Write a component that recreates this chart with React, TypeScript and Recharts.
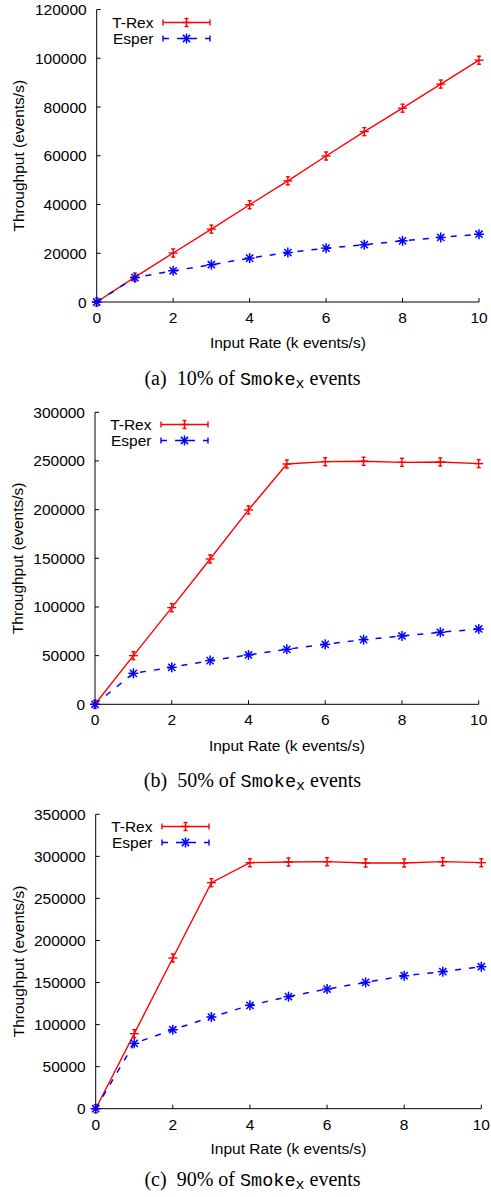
import React from 'react';
import { LineChart, Line, XAxis, YAxis, Legend } from 'recharts';

// input rate, k events/s
const inputRate = [0, 1, 2, 3, 4, 5, 6, 7, 8, 9, 10];

// (a) 10% of Smoke_x events
const trexA = [0, 10200, 20100, 29900, 39900, 49700, 59900, 69900, 79500, 89400, 99200];
const esperA = [0, 10000, 12800, 15300, 18000, 20300, 22100, 23500, 25100, 26500, 27800];

// (b) 50% of Smoke_x events
const trexB = [0, 50000, 99300, 149300, 199700, 246900, 249300, 249700, 248600, 249000, 247300];
const esperB = [0, 31800, 38000, 44900, 50700, 56500, 61600, 66400, 70200, 74000, 77400];

// (c) 90% of Smoke_x events
const trexC = [0, 89200, 179200, 268700, 292500, 293300, 293700, 292100, 292100, 293700, 292500];
const esperC = [0, 77700, 93900, 109000, 122900, 133200, 142300, 150200, 158100, 162900, 168800];

const xTicks = [0, 2, 4, 6, 8, 10];
const yTicksA = [0, 20000, 40000, 60000, 80000, 100000, 120000];
const yTicksB = [0, 50000, 100000, 150000, 200000, 250000, 300000];
const yTicksC = [0, 50000, 100000, 150000, 200000, 250000, 300000, 350000];

const RED = '#ff0000';
const BLUE = '#0000ff';
const SANS = '"Liberation Sans", Arial, Helvetica, sans-serif';
const FS = 15.5;
const DASH = '6 8';

function PlusMark({ cx, cy }: { cx: number; cy: number }) {
  return (
    <g stroke={RED} strokeWidth={1.4} fill="none">
      <line x1={cx - 4.5} y1={cy} x2={cx + 4.5} y2={cy} />
      <line x1={cx} y1={cy - 4.5} x2={cx} y2={cy + 4.5} />
      <line x1={cx - 2} y1={cy - 4} x2={cx + 2} y2={cy - 4} />
      <line x1={cx - 2} y1={cy + 4} x2={cx + 2} y2={cy + 4} />
    </g>
  );
}

function StarMark({ cx, cy }: { cx: number; cy: number }) {
  const r = 5;
  const d = 3.6;
  return (
    <g stroke={BLUE} strokeWidth={1.5} fill="none">
      <line x1={cx - r} y1={cy} x2={cx + r} y2={cy} />
      <line x1={cx} y1={cy - r} x2={cx} y2={cy + r} />
      <line x1={cx - d} y1={cy - d} x2={cx + d} y2={cy + d} />
      <line x1={cx - d} y1={cy + d} x2={cx + d} y2={cy - d} />
    </g>
  );
}

const trexDot = (props: any) =>
  props.cx == null ? <g key={props.key} /> : <PlusMark key={props.key} cx={props.cx} cy={props.cy} />;
const esperDot = (props: any) =>
  props.cx == null ? <g key={props.key} /> : <StarMark key={props.key} cx={props.cx} cy={props.cy} />;

function KeyBox() {
  const rows = [
    { name: 'T-Rex', color: RED, dash: undefined, y: 12.5 },
    { name: 'Esper', color: BLUE, dash: DASH, y: 28.5 },
  ];
  return (
    <svg width={130} height={40} style={{ display: 'block' }}>
      {rows.map((r) => (
        <g key={r.name}>
          <text x={56.5} y={r.y} dy="0.36em" textAnchor="end" fontFamily={SANS} fontSize={FS} fill="#000">
            {r.name}
          </text>
          <line x1={66} y1={r.y} x2={113} y2={r.y} stroke={r.color} strokeWidth={1.4} strokeDasharray={r.dash} />
          <line x1={66} y1={r.y - 3} x2={66} y2={r.y + 3} stroke={r.color} strokeWidth={1.4} />
          <line x1={113} y1={r.y - 3} x2={113} y2={r.y + 3} stroke={r.color} strokeWidth={1.4} />
          {r.name === 'T-Rex' ? <PlusMark cx={89.5} cy={r.y} /> : <StarMark cx={89.5} cy={r.y} />}
        </g>
      ))}
    </svg>
  );
}

interface PanelProps {
  trex: number[];
  esper: number[];
  yTicks: number[];
  top: number;
  height: number;
  plotTop: number;
  plotLeft: number;
  plotRight: number;
  plotBottom: number;
  titleY: number;
}

function Panel({ trex, esper, yTicks, top, height, plotTop, plotLeft, plotRight, plotBottom, titleY }: PanelProps) {
  const data = inputRate.map((x, i) => ({ x, trex: trex[i], esper: esper[i] }));
  const yMax = yTicks[yTicks.length - 1];
  const tickStyle = { fill: '#000', fontSize: FS, fontFamily: SANS };
  const axisLine = { stroke: '#000', strokeWidth: 1 };
  return (
    <div style={{ position: 'absolute', left: 0, top }}>
      <LineChart
        width={491}
        height={height}
        data={data}
        margin={{ top: plotTop - top, right: 491 - plotRight, left: 0, bottom: 0 }}
      >
        <XAxis
          dataKey="x"
          type="number"
          domain={[0, 10]}
          ticks={xTicks}
          height={top + height - plotBottom}
          tickSize={-4}
          tickMargin={14}
          axisLine={axisLine}
          tickLine={{ stroke: '#000' }}
          tick={tickStyle}
          label={{
            value: 'Input Rate (k events/s)',
            position: 'insideBottom',
            offset: top + height - titleY - 5.5,
            fill: '#000',
            fontSize: FS,
            fontFamily: SANS,
          }}
        />
        <XAxis
          xAxisId="top"
          orientation="top"
          type="number"
          domain={[0, 10]}
          ticks={xTicks}
          height={0}
          tickSize={-4}
          axisLine={axisLine}
          tickLine={{ stroke: '#000' }}
          tick={false}
        />
        <YAxis
          type="number"
          domain={[0, yMax]}
          ticks={yTicks}
          width={plotLeft}
          tickSize={-4}
          tickMargin={14}
          axisLine={axisLine}
          tickLine={{ stroke: '#000' }}
          tick={tickStyle}
          label={{
            value: 'Throughput (events/s)',
            angle: -90,
            position: 'insideLeft',
            offset: 18,
            fill: '#000',
            fontSize: FS,
            fontFamily: SANS,
            style: { textAnchor: 'middle' },
          }}
        />
        <YAxis
          yAxisId="right"
          orientation="right"
          type="number"
          domain={[0, yMax]}
          ticks={yTicks}
          width={0}
          tickSize={-4}
          axisLine={axisLine}
          tickLine={{ stroke: '#000' }}
          tick={false}
        />
        <Legend
          layout="vertical"
          align="center"
          verticalAlign="middle"
          wrapperStyle={{ left: plotLeft, top: plotTop - top }}
          content={() => <KeyBox />}
        />
        <Line
          dataKey="trex"
          name="T-Rex"
          stroke={RED}
          strokeWidth={1.4}
          dot={trexDot}
          activeDot={false}
          isAnimationActive={false}
        />
        <Line
          dataKey="esper"
          name="Esper"
          stroke={BLUE}
          strokeWidth={1.5}
          strokeDasharray={DASH}
          dot={esperDot}
          activeDot={false}
          isAnimationActive={false}
        />
      </LineChart>
    </div>
  );
}

function Caption({ tag, pct, y }: { tag: string; pct: string; y: number }) {
  return (
    <div
      style={{
        position: 'absolute',
        left: 252.5,
        top: y - 10,
        transform: 'translateX(-50%)',
        whiteSpace: 'nowrap',
        fontFamily: '"Liberation Serif", "Times New Roman", serif',
        fontSize: 20,
        lineHeight: '20px',
        color: '#000',
      }}
    >
      ({tag})&nbsp; {pct}% of{' '}
      <span style={{ fontFamily: '"Liberation Mono", "DejaVu Sans Mono", monospace', fontSize: 18.5 }}>
        Smoke
        <sub style={{ fontSize: 15, lineHeight: 0, verticalAlign: -3 }}>x</sub>
      </span>{' '}
      events
    </div>
  );
}

export default function App() {
  return (
    <div style={{ position: 'absolute', left: 0, top: 0, width: 491, height: 1197, background: '#fff', overflow: 'hidden' }}>
      <Panel trex={trexA} esper={esperA} yTicks={yTicksA} top={0} height={360}
        plotTop={9.5} plotLeft={96.7} plotRight={479} plotBottom={302} titleY={342} />
      <Caption tag="a" pct="10" y={378} />
      <Panel trex={trexB} esper={esperB} yTicks={yTicksB} top={400} height={360}
        plotTop={412.3} plotLeft={95} plotRight={478.7} plotBottom={704.3} titleY={745} />
      <Caption tag="b" pct="50" y={780} />
      <Panel trex={trexC} esper={esperC} yTicks={yTicksC} top={800} height={365}
        plotTop={814.3} plotLeft={95.7} plotRight={481.3} plotBottom={1108.7} titleY={1148.3} />
      <Caption tag="c" pct="90" y={1179} />
    </div>
  );
}
